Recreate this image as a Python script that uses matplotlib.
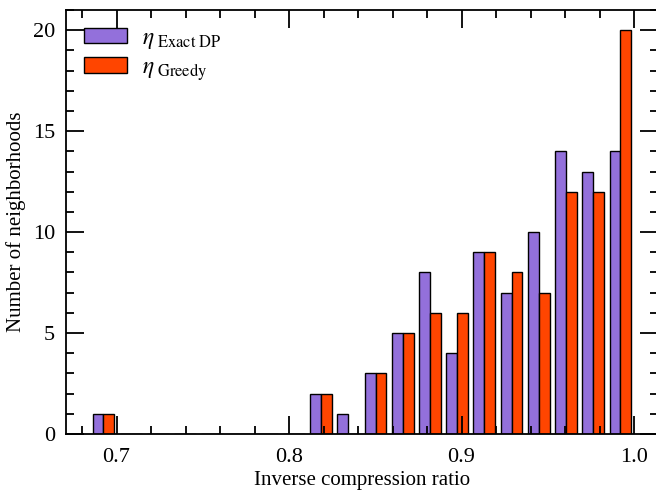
import numpy as np
import matplotlib
matplotlib.use("Agg")
import matplotlib.pyplot as plt
from matplotlib.ticker import MultipleLocator

# ---- data ----
bin_lo, bin_hi, n_bins = 0.6845, 1.0, 20
counts_exact = [1, 0, 0, 0, 0, 0, 0, 0, 2, 1, 3, 5, 8, 4, 9, 7, 10, 14, 13, 14]
counts_greedy = [1, 0, 0, 0, 0, 0, 0, 0, 2, 0, 3, 5, 6, 6, 9, 8, 7, 12, 12, 20]
labels = [r'$\eta_{\ \mathrm{Exact\ DP}}$', r'$\eta_{\ \mathrm{Greedy}}$']
colors = ['#9370DB', '#FF4500']
xticks = [0.7, 0.8, 0.9, 1.0]
yticks = [0, 5, 10, 15, 20]

plt.rcParams['font.family'] = ['Liberation Serif', 'DejaVu Serif']
plt.rcParams['mathtext.fontset'] = 'stix'

edges = np.linspace(bin_lo, bin_hi, n_bins + 1)
centers = (edges[:-1] + edges[1:]) / 2

fig = plt.figure(figsize=(6.56, 4.91), dpi=100)
ax = fig.add_axes([66/656, (491-434)/491, (658-66)/656, 424/491])

ax.hist([centers, centers], bins=edges, weights=[counts_exact, counts_greedy],
        rwidth=0.8, color=colors, edgecolor='black', linewidth=1.0, label=labels)

ax.set_xlim(0.6707, 1.0139)
ax.set_ylim(0, 21)
ax.set_xticks(xticks)
ax.set_xticklabels([f'{v:.1f}' for v in xticks])
ax.set_yticks(yticks)
ax.xaxis.set_minor_locator(MultipleLocator(0.02))
ax.yaxis.set_minor_locator(MultipleLocator(1))
ax.tick_params(which='both', direction='in', top=True, right=True, labelsize=16, width=1.3)
ax.tick_params(which='major', length=13)
ax.tick_params(axis='x', which='major', pad=10)
ax.tick_params(axis='y', which='major', pad=8)
ax.tick_params(which='minor', length=6)
for s in ax.spines.values():
    s.set_linewidth(1.3)

ax.set_xlabel('Inverse compression ratio', fontsize=15, labelpad=3)
ax.set_ylabel('Number of neighborhoods', fontsize=15, labelpad=5)

ax.legend(loc='upper left', frameon=False, fontsize=17, handlelength=1.85,
          handleheight=0.65, handletextpad=0.6, borderaxespad=0.35,
          borderpad=0.4, labelspacing=0.28)

fig.savefig('out.png', dpi=100)
